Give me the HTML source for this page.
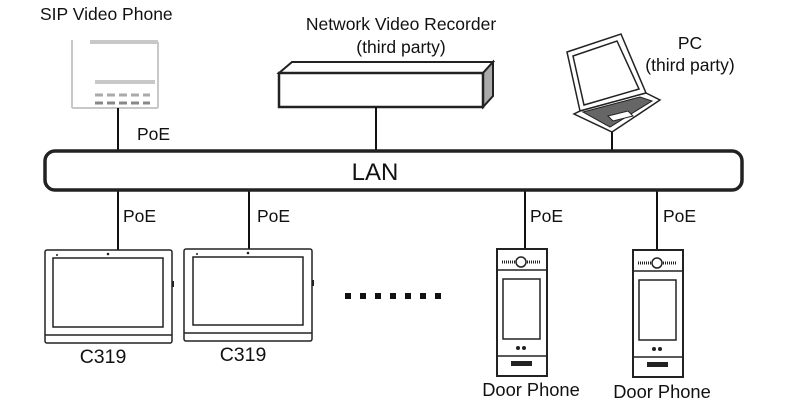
<!DOCTYPE html>
<html><head><style>body{margin:0;background:#fff}svg{display:block}text{font-family:"Liberation Sans",sans-serif;fill:#111}</style></head><body>
<svg width="790" height="407" viewBox="0 0 790 407" xmlns="http://www.w3.org/2000/svg">
<text x="40" y="20" font-size="17.5">SIP Video Phone</text>
<text x="401" y="30" font-size="17.5" text-anchor="middle">Network Video Recorder</text>
<text x="401" y="53" font-size="17.5" text-anchor="middle">(third party)</text>
<text x="690" y="49" font-size="17.5" text-anchor="middle">PC</text>
<text x="690" y="71" font-size="17.5" text-anchor="middle">(third party)</text>
<!-- SIP phone faint -->
<g stroke="#c8c8c8" fill="none" stroke-width="2">
<line x1="72" y1="40" x2="72" y2="108"/>
<line x1="90" y1="42" x2="158" y2="42" stroke-width="4"/>
<line x1="158" y1="42" x2="158" y2="108"/>
<line x1="72" y1="108" x2="158" y2="108"/>
<line x1="95" y1="82" x2="155" y2="82" stroke-width="4"/>
<line x1="95" y1="95" x2="150" y2="95" stroke="#aaa" stroke-dasharray="8 4" stroke-width="3"/>
<line x1="95" y1="103" x2="150" y2="103" stroke="#888" stroke-dasharray="8 4" stroke-width="3"/>
</g>
<!-- NVR -->
<polygon points="279,73 292,62 493,62 483,73" fill="#fff" stroke="#222" stroke-width="2"/>
<polygon points="483,73 493,62 493,96 483,107" fill="#aaa" stroke="#222" stroke-width="2"/>
<rect x="279" y="73" width="204" height="34" fill="#fff" stroke="#222" stroke-width="2.5"/>
<!-- Laptop -->
<g stroke="#222" fill="#fff" stroke-width="1.5">
<polygon points="567,52 621,34 646,93 580,111"/>
<polygon points="573,56 617,41 639,89 584,105"/>
<polygon points="580,111 646,93 660,100 612,132 574,114"/>
<polygon points="583,112 640,97 652,101 610,127" fill="#666" stroke-width="1"/>
<polygon points="608,116 628,111 633,116 613,121" fill="#fff" stroke-width="1"/>
</g>
<!-- connectors -->
<g stroke="#111" stroke-width="2">
<line x1="118" y1="108" x2="118" y2="150"/>
<line x1="376" y1="107" x2="376" y2="150"/>
<line x1="612" y1="132" x2="612" y2="150"/>
<line x1="118" y1="190" x2="118" y2="250"/>
<line x1="249" y1="190" x2="249" y2="249"/>
<line x1="525" y1="190" x2="525" y2="249"/>
<line x1="657" y1="190" x2="657" y2="250"/>
</g>
<text x="137" y="140" font-size="17.5">PoE</text>
<!-- LAN -->
<rect x="45" y="151" width="697" height="39" rx="10" fill="#fff" stroke="#222" stroke-width="3.5"/>
<text x="375" y="180" font-size="24" text-anchor="middle">LAN</text>
<text x="123" y="222" font-size="17.5">PoE</text>
<text x="257" y="222" font-size="17.5">PoE</text>
<text x="530" y="222" font-size="17.5">PoE</text>
<text x="663" y="222" font-size="17.5">PoE</text>
<!-- C319 -->
<g stroke="#222" fill="#fff" stroke-width="1.5">
<rect x="45" y="250" width="127" height="93" rx="2"/>
<rect x="53" y="258" width="110" height="69"/>
<line x1="45" y1="335" x2="172" y2="335"/>
<rect x="184" y="249" width="128" height="92" rx="2"/>
<rect x="193" y="257" width="110" height="68"/>
<line x1="184" y1="333" x2="312" y2="333"/>
</g>
<rect x="172" y="281" width="2" height="6" fill="#222"/>
<rect x="312" y="280" width="2" height="6" fill="#222"/>
<circle cx="108" cy="254" r="1.3" fill="#222"/><circle cx="57" cy="255" r="1" fill="#222"/>
<circle cx="248" cy="253" r="1.3" fill="#222"/><circle cx="197" cy="254" r="1" fill="#222"/>
<text x="103" y="363" font-size="19.5" text-anchor="middle">C319</text>
<text x="243" y="361" font-size="19.5" text-anchor="middle">C319</text>
<!-- dots -->
<g fill="#111"><rect x="345" y="293" width="6" height="6"/><rect x="360" y="293" width="6" height="6"/><rect x="375" y="293" width="6" height="6"/><rect x="390" y="293" width="6" height="6"/><rect x="405" y="293" width="6" height="6"/><rect x="420" y="293" width="6" height="6"/><rect x="435" y="293" width="6" height="6"/></g>
<!-- Door phones -->
<g id="dp">
<rect x="497" y="249" width="50" height="127" fill="#fff" stroke="#222" stroke-width="2"/>
<line x1="497" y1="270" x2="547" y2="270" stroke="#222" stroke-width="1.5"/>
<line x1="502" y1="262" x2="515" y2="262" stroke="#222" stroke-width="3" stroke-dasharray="1 1"/>
<line x1="527" y1="262" x2="541" y2="262" stroke="#222" stroke-width="3" stroke-dasharray="1 1"/>
<circle cx="521" cy="262" r="5" fill="#fff" stroke="#222" stroke-width="1.5"/>
<rect x="503" y="279" width="37" height="60" fill="#fff" stroke="#222" stroke-width="1.5"/>
<circle cx="518" cy="348" r="2" fill="#222"/><circle cx="524" cy="348" r="2" fill="#222"/>
<line x1="497" y1="356" x2="547" y2="356" stroke="#222" stroke-width="1.5"/>
<rect x="511" y="361" width="21" height="5" fill="#222"/>
</g>
<use href="#dp" transform="translate(136,1)"/>
<text x="531" y="396" font-size="18.3" text-anchor="middle">Door Phone</text>
<text x="662" y="398" font-size="18.3" text-anchor="middle">Door Phone</text>
</svg>
</body></html>
